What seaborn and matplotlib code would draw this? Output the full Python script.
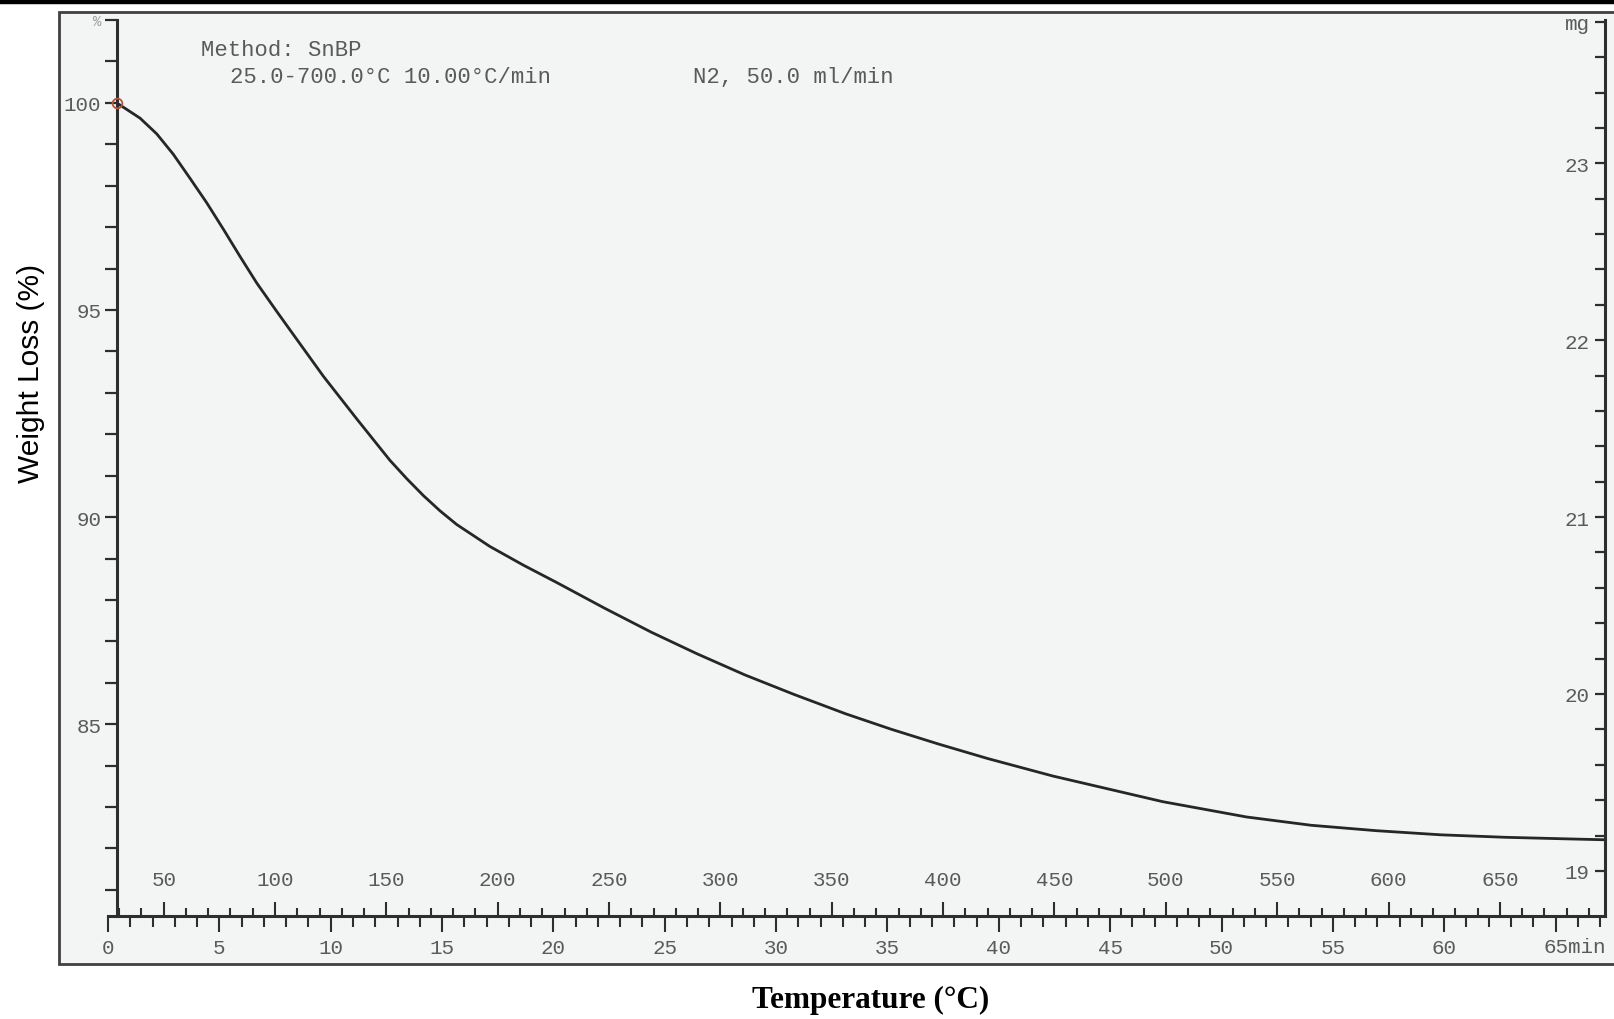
import matplotlib
matplotlib.use("Agg")
import numpy as np
import pandas as pd
import matplotlib.pyplot as plt
import matplotlib.transforms as mtransforms
from matplotlib.patches import Rectangle
from matplotlib.lines import Line2D
from matplotlib.ticker import MultipleLocator
import seaborn as sns

# ---- TGA trace (time in min, residual weight in %) ----
time_min = [0.39, 1.44, 2.19, 2.93, 3.68, 4.43, 5.18, 5.93, 6.68, 7.57, 8.17,
            9.67, 11.17, 12.66, 13.41, 14.16, 14.91, 15.66, 17.15, 18.65, 20.15,
            22.30, 24.40, 26.45, 28.60, 30.80, 33.13, 35.16, 37.30, 39.51,
            42.42, 47.36, 51.13, 54.03, 56.94, 59.84, 62.74, 65.65, 67.22]
weight_pct = [100.00, 99.63, 99.25, 98.76, 98.18, 97.59, 96.95, 96.29, 95.65,
              94.97, 94.52, 93.40, 92.37, 91.37, 90.93, 90.52, 90.15, 89.82,
              89.29, 88.84, 88.42, 87.80, 87.22, 86.70, 86.19, 85.72, 85.25,
              84.88, 84.52, 84.17, 83.75, 83.13, 82.76, 82.56, 82.43, 82.33,
              82.27, 82.23, 82.21]

# ---- axis scales ----
time_ticks = list(range(0, 66, 5))
temp_labels = list(range(50, 651, 50))
pct_ticks = list(range(81, 103))
pct_labels = {85: "85", 90: "90", 95: "95", 100: "100", 102: "%"}
mg_ticks = [round(19 + 0.2 * i, 1) for i in range(25)]
mg_labels = {19.0: "19", 20.0: "20", 21.0: "21", 22.0: "22", 23.0: "23", 23.8: "mg"}

method_line = "Method: SnBP"
program_line = "25.0-700.0°C 10.00°C/min"
gas_line = "N2, 50.0 ml/min"
ylabel_text = "Weight Loss (%)"
xlabel_text = "Temperature (°C)"

start_temp = 25.0
heat_rate = 10.0


def t_to_T(t):
    return start_temp + heat_rate * np.asarray(t)


def T_to_t(T):
    return (np.asarray(T) - start_temp) / heat_rate


df = pd.DataFrame({"time": time_min, "weight": weight_pct})

sns.set_theme(style="white")
plt.rcParams["font.family"] = ["Liberation Mono", "DejaVu Sans Mono"]

W, H = 1614, 1020
fig = plt.figure(figsize=(W / 100, H / 100), dpi=100)
fig.patch.set_facecolor("white")


def fx(px):
    return px / W


def fy(py):
    return 1 - py / H


INK = "#2e2e2e"
TXT = "#5a5a5a"

# printed chart frame and top rule
frame = Rectangle((fx(59), fy(965)), fx(1640) - fx(59), fy(13) - fy(965),
                  transform=fig.transFigure, facecolor="#f3f4f4",
                  edgecolor="#404040", lw=2.0, zorder=-5)
fig.patches.append(frame)
fig.add_artist(Line2D([0, 1], [fy(3), fy(3)], color="black", lw=3.2,
                      transform=fig.transFigure, zorder=-4))

ax = fig.add_axes([fx(108), fy(917), fx(1605) - fx(108), fy(21) - fy(917)])
ax.set_facecolor("none")
ax.set_zorder(2)

sns.lineplot(data=df, x="time", y="weight", ax=ax, color="#262626", lw=2.0,
             sort=True, estimator=None)
ax.plot(time_min[0], weight_pct[0], marker="o", ms=7, mfc="none", mec="#b0573f",
        mew=1.3, zorder=5)

ax.set_xlim(0, 67.22)
ax.set_ylim(80.37, 102.0)
ax.set_xlabel("")
ax.set_ylabel("")

for s in ("top", "right"):
    ax.spines[s].set_visible(False)
ax.spines["left"].set_position(("data", time_min[0]))
for s in ("left", "bottom"):
    ax.spines[s].set_color(INK)
    ax.spines[s].set_linewidth(2.2)

# weight axis
ax.set_yticks(pct_ticks, labels=[pct_labels.get(v, "") for v in pct_ticks])
ax.tick_params(axis="y", direction="out", length=9, width=1.6, color=INK,
               pad=2, labelsize=15, labelcolor=TXT, left=True)
for lab, v in zip(ax.get_yticklabels(), pct_ticks):
    if v == 102:
        lab.set_fontsize(10)
        lab.set_color("#9a9a9a")

# time ruler (below the line)
ax.set_xticks(time_ticks, labels=[str(v) if v != 65 else "" for v in time_ticks])
ax.xaxis.set_minor_locator(MultipleLocator(1))
ax.tick_params(axis="x", which="major", direction="out", length=11.5, width=1.5,
               color=INK, pad=4, labelsize=15, labelcolor=TXT, bottom=True)
ax.tick_params(axis="x", which="minor", direction="out", length=8, width=1.5,
               color=INK, bottom=True)
tr = mtransforms.blended_transform_factory(ax.transData, ax.transAxes)
t65 = mtransforms.offset_copy(tr, fig=fig, x=-12, y=0, units="dots")
ax.text(65, -(948 - 917) / 896, "65min", transform=t65, ha="left", va="center",
        fontsize=15, color=TXT)

# temperature ruler (above the line)
sec = ax.secondary_xaxis("bottom", functions=(t_to_T, T_to_t))
sec.set_xticks(list(range(50, 701, 50)), labels=[""] * 14)
sec.xaxis.set_minor_locator(MultipleLocator(10))
sec.tick_params(axis="x", which="major", direction="in", length=10, width=1.5,
                color=INK, bottom=True)
sec.tick_params(axis="x", which="minor", direction="in", length=6, width=1.5,
                color=INK, bottom=True)
sec.spines["bottom"].set_visible(False)
for T in temp_labels:
    ax.text(float(T_to_t(T)), (917 - 880) / 896, str(T), transform=tr,
            ha="center", va="center", fontsize=15, color=TXT)

# sample mass axis
ax2 = ax.twinx()
ax2.set_ylim(18.745, 23.81)
for s in ("top", "left", "bottom"):
    ax2.spines[s].set_visible(False)
ax2.spines["right"].set_color(INK)
ax2.spines["right"].set_linewidth(2.2)
ax2.set_yticks(mg_ticks, labels=[mg_labels.get(v, "") for v in mg_ticks])
ax2.tick_params(axis="y", direction="in", length=7.5, width=1.6, color=INK,
                pad=-11, labelsize=15, labelcolor=TXT, right=True)
for lab in ax2.get_yticklabels():
    lab.set_ha("right")
ax2.grid(False)
ax.grid(False)

# method header
fig.text(fx(201), fy(50), method_line, ha="left", va="center", fontsize=16,
         color=TXT)
fig.text(fx(230), fy(78), program_line, ha="left", va="center", fontsize=16,
         color=TXT)
fig.text(fx(693), fy(78), gas_line, ha="left", va="center", fontsize=16,
         color=TXT)

# axis titles
fig.text(fx(31), fy(373), ylabel_text, rotation=90, ha="center", va="center",
         fontsize=21.5, color="black", family=["Liberation Sans", "DejaVu Sans"])
fig.text(fx(871), fy(1000), xlabel_text, ha="center", va="center",
         fontsize=22.5, color="black", fontweight="bold",
         family=["Liberation Serif", "DejaVu Serif"])

fig.savefig("out.png", dpi=100)
